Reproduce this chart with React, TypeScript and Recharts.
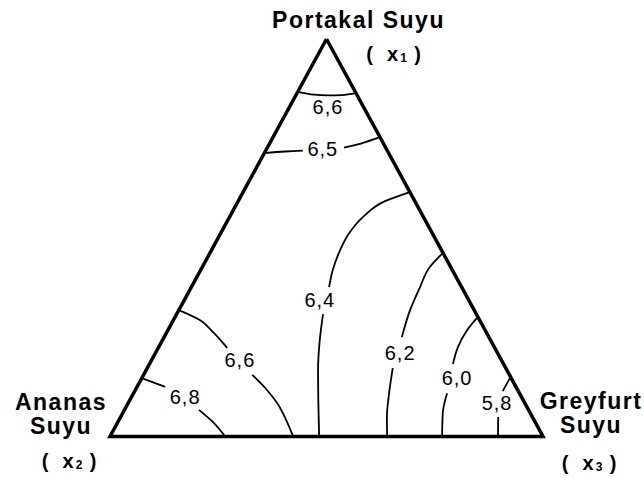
import { ComposedChart, Line, Scatter, XAxis, YAxis } from 'recharts';

// blend composition in percent: [x1 portakal, x2 ananas, x3 greyfurt]
type Mix = [number, number, number];

const corners: Mix[] = [[100, 0, 0], [0, 100, 0], [0, 0, 100], [100, 0, 0]];
const cornerNames = [['Portakal Suyu'], ['Ananas', 'Suyu'], ['Greyfurt', 'Suyu']];
const cornerSymbols = ['1', '2', '3'];

// contour lines, each split where its label sits
const c66TopA: Mix[] = [[86.7, 13.3, 0], [86.0, 9.9, 4.1], [85.8, 6.7, 7.5], [85.9, 3.5, 10.6], [86.4, 0, 13.6]];
const c65A: Mix[] = [[71.3, 28.7, 0], [71.7, 23.7, 4.6], [71.9, 19.5, 8.6]];
const c65B: Mix[] = [[72.7, 9.6, 17.7], [73.7, 5.2, 21.1], [75.3, 0, 24.7]];
const c64A: Mix[] = [[61.5, 0, 38.5], [59.2, 6.9, 33.9], [55.2, 14.0, 30.8], [50.7, 19.7, 29.6], [46.9, 23.4, 29.7], [41.9, 27.6, 30.5], [37.6, 30.6, 31.8]];
const c64B: Mix[] = [[30.8, 35.4, 33.8], [24.3, 39.4, 36.3], [16.7, 43.6, 39.7], [9.2, 47.3, 43.5], [0, 51.7, 48.3]];
const c62A: Mix[] = [[46.2, 0, 53.8], [42.4, 5.1, 52.5], [37.6, 9.6, 52.8], [31.8, 14.8, 53.4], [25.0, 20.1, 54.9]];
const c62B: Mix[] = [[17.2, 26.1, 56.7], [10.4, 30.4, 59.2], [4.9, 33.6, 61.5], [0, 36.0, 64.0]];
const c60A: Mix[] = [[30.1, 0, 69.9], [26.8, 4.1, 69.1], [22.5, 8.4, 69.1], [18.2, 11.7, 70.1]];
const c60B: Mix[] = [[10.9, 16.7, 72.4], [5.9, 20.2, 73.9], [0, 23.3, 76.7]];
const c58A: Mix[] = [[15.0, 0, 85.0], [11.4, 3.6, 85.0]];
const c58B: Mix[] = [[4.9, 7.9, 87.2], [0, 10.4, 89.6]];
const c66LeftA: Mix[] = [[31.8, 68.2, 0], [29.3, 64.6, 6.1], [26.3, 63.1, 10.6], [22.3, 61.8, 15.9]];
const c66LeftB: Mix[] = [[15.5, 59.4, 25.1], [11.7, 57.9, 30.4], [8.4, 57.2, 34.4], [4.7, 57.2, 38.1], [0, 57.7, 42.3]];
const c68A: Mix[] = [[14.7, 85.3, 0], [12.5, 81.0, 6.5]];
const c68B: Mix[] = [[6.7, 76.1, 17.2], [3.6, 74.4, 22.0], [0, 73.4, 26.6]];

const contourLevels = ['6,6', '6,5', '6,4', '6,2', '6,0', '5,8', '6,6', '6,8'];
const labelSpots: Mix[] = [[82.9, 8.2, 8.9], [72.3, 14.7, 13.0], [34.3, 34.4, 31.3], [21.0, 22.5, 56.5], [14.7, 12.5, 72.8], [8.4, 6.4, 85.2], [19.2, 60.4, 20.4], [9.9, 77.7, 12.4]];

// lines that run across the triangle are smoothed along x, the rest along y
const flatSegments = [c66TopA, c65A, c65B];
const steepSegments = [c64A, c64B, c62A, c62B, c60A, c60B, c58A, c58B, c66LeftA, c66LeftB, c68A, c68B];

// ternary -> cartesian, base from x2 (left) to x3 (right), apex x1
const toXY = ([a, , c]: Mix) => ({ x: (c + a / 2) / 100, y: a / 100 });

const FONT = '"Liberation Sans", Arial, Helvetica, sans-serif';

const labelData = labelSpots.map((m, i) => ({ ...toXY(m), text: contourLevels[i] }));
const cornerData = corners.slice(0, 3).map((m, i) => ({ ...toXY(m), idx: i }));

// text offsets around each corner
const cornerLayout = [
  { nameX: 32, nameY: [-11], symX: 43, symY: 22 },
  { nameX: -49, nameY: [-27, -3], symX: -65, symY: 31 },
  { nameX: 48, nameY: [-28, -4], symX: 22, symY: 33 },
];

const LevelLabel = (props: any) => {
  const { cx, cy, payload } = props;
  return (
    <text x={cx} y={cy + 7} textAnchor="middle" fontFamily={FONT} fontSize={20} letterSpacing={1} fill="#000">
      {payload.text}
    </text>
  );
};

const CornerLabel = (props: any) => {
  const { cx, cy, payload } = props;
  const lay = cornerLayout[payload.idx];
  const names = cornerNames[payload.idx];
  const sx = cx + lay.symX;
  const sy = cy + lay.symY;
  return (
    <g fontFamily={FONT} fontWeight="bold" fill="#000">
      {names.map((n, i) => (
        <text key={n + i} x={cx + lay.nameX} y={cy + lay.nameY[i]} textAnchor="middle" fontSize={23} letterSpacing={1.5}>
          {n}
        </text>
      ))}
      <text x={sx} y={sy} textAnchor="middle" fontSize={20}>(</text>
      <text x={sx + 23} y={sy} textAnchor="middle" fontSize={20}>x</text>
      <text x={sx + 34} y={sy + 1} textAnchor="middle" fontSize={12}>{cornerSymbols[payload.idx]}</text>
      <text x={sx + 48} y={sy} textAnchor="middle" fontSize={20}>)</text>
    </g>
  );
};

const contourLine = (seg: Mix[], key: string, type: 'monotoneX' | 'monotoneY') => (
  <Line
    key={key}
    data={seg.map(toXY)}
    dataKey="y"
    type={type}
    stroke="#000"
    strokeWidth={1.8}
    dot={false}
    activeDot={false}
    isAnimationActive={false}
  />
);

export default function App() {
  return (
    <div style={{ width: 644, height: 477, background: '#fff' }}>
      <style>{'body{margin:0}'}</style>
      <ComposedChart width={644} height={477} margin={{ top: 39, right: 101, bottom: 40.5, left: 110 }}>
        <XAxis type="number" dataKey="x" domain={[0, 1]} hide />
        <YAxis type="number" dataKey="y" domain={[0, 1]} hide />
        <Line
          data={corners.map(toXY)}
          dataKey="y"
          type="linear"
          stroke="#000"
          strokeWidth={3.5}
          strokeLinejoin="miter"
          dot={false}
          activeDot={false}
          isAnimationActive={false}
        />
        {flatSegments.map((seg, i) => contourLine(seg, 'f' + i, 'monotoneX'))}
        {steepSegments.map((seg, i) => contourLine(seg, 's' + i, 'monotoneY'))}
        <Scatter data={labelData} shape={LevelLabel} isAnimationActive={false} />
        <Scatter data={cornerData} shape={CornerLabel} isAnimationActive={false} />
      </ComposedChart>
    </div>
  );
}
